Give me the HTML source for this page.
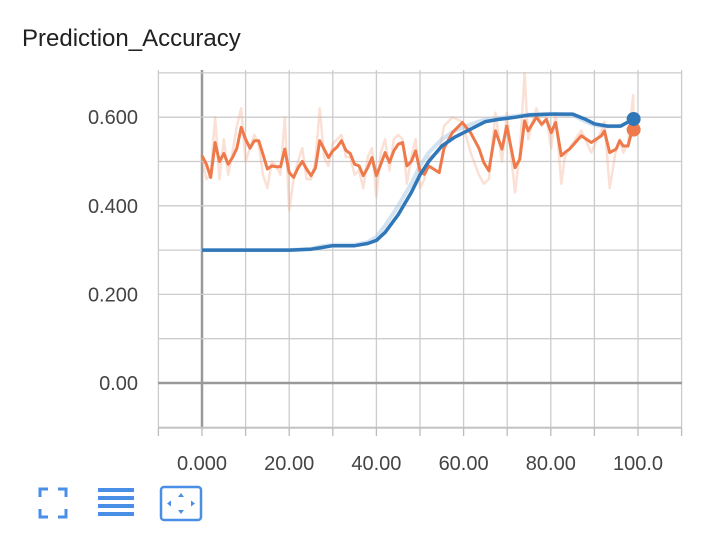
<!DOCTYPE html>
<html><head><meta charset="utf-8"><style>
body{margin:0;background:#fff;width:728px;height:538px;overflow:hidden;font-family:"Liberation Sans",sans-serif}
</style></head><body>
<svg width="728" height="538">
<text x="22" y="46" font-size="24" fill="#212121">Prediction_Accuracy</text>
<g id="grid"></g><g id="series"></g><g id="axes"></g>
<g stroke="#4a8fe7" stroke-width="3" fill="none">
<path d="M40 497v-8h8M58 489h8v8M66 509v8h-8M48 517h-8v-8"/></g>
<g fill="#4a8fe7">
<rect x="98" y="488" width="36" height="4"/><rect x="98" y="496" width="36" height="4"/><rect x="98" y="504" width="36" height="4"/><rect x="98" y="512" width="36" height="4"/></g>
<g>
<rect x="161" y="487" width="40" height="33" rx="3" fill="none" stroke="#4a8fe7" stroke-width="2.5"/>
<path d="M181 493l-3 4h6zM181 514l-3-4h6zM167 503.5l4-3v6zM195 503.5l-4-3v6z" fill="#4a8fe7"/></g>
</svg>
<script>
const xTicks=[0,20,40,60,80,100];
const xTickLabels=["0.000","20.00","40.00","60.00","80.00","100.0"];
const yTicks=[0,0.2,0.4,0.6];
const yTickLabels=["0.00","0.200","0.400","0.600"];
const orangeSteps=[0,1,2,3,4,5,6,7,8,9,10,11,12,13,14,15,16,17,18,19,20,21,22,23,24,25,26,27,28,29,30,31,32,33,34,35,36,37,38,39,40,41,42,43,44,45,46,47,48,49,50,51,52,54.4,55.5,57.4,59.7,61.6,63.5,64.6,65.8,67.3,68.8,69.9,71.8,72.9,74,74.8,76.7,77.9,79,80.1,81.1,82.4,83.2,84.3,87,89.3,91.6,92.3,93.5,95,95.8,96.6,97.7,98.9,99];
const orangeSmoothed=[.513,.494,.464,.543,.50,.518,.494,.509,.53,.577,.55,.53,.547,.547,.516,.483,.49,.488,.488,.528,.475,.464,.485,.50,.483,.468,.485,.547,.528,.509,.524,.533,.547,.525,.518,.494,.49,.468,.486,.509,.468,.494,.52,.498,.524,.539,.543,.49,.50,.524,.479,.471,.49,.475,.53,.565,.588,.565,.53,.498,.479,.569,.528,.58,.486,.505,.592,.569,.6,.584,.595,.565,.588,.513,.52,.528,.558,.543,.558,.569,.52,.528,.547,.535,.535,.58,.572];
const orangeRaw=[.51,.46,.47,.60,.46,.55,.47,.52,.58,.62,.50,.53,.56,.54,.47,.44,.50,.49,.47,.60,.39,.46,.50,.53,.46,.46,.50,.62,.51,.49,.54,.55,.56,.51,.51,.47,.48,.44,.51,.53,.42,.52,.55,.48,.55,.56,.55,.45,.51,.55,.44,.46,.51,.52,.58,.60,.59,.52,.47,.45,.46,.61,.50,.61,.43,.52,.70,.55,.62,.58,.60,.53,.61,.45,.51,.53,.57,.52,.57,.59,.44,.53,.55,.52,.54,.65,.56];
const blueSteps=[0,10,20,25,27,30,35,38,40,42,45,48,50,52,55,58,62,65,68,72,75,80,85,88,90,93,96,99];
const blueSmoothed=[.30,.30,.30,.302,.305,.31,.31,.315,.322,.34,.38,.43,.47,.50,.535,.555,.575,.59,.595,.60,.605,.607,.607,.595,.585,.58,.58,.596];
const blueRaw=[.30,.30,.30,.303,.308,.312,.312,.318,.33,.355,.40,.45,.49,.52,.55,.57,.585,.595,.598,.603,.606,.608,.605,.59,.582,.579,.58,.596];
const NS="http://www.w3.org/2000/svg";
const X=v=>202+v*4.36, Y=v=>383-v*443;
const grid=document.getElementById('grid'),axes=document.getElementById('axes'),ser=document.getElementById('series');
function mk(p,tag,a){const e=document.createElementNS(NS,tag);for(const k in a)e.setAttribute(k,a[k]);p.appendChild(e);return e;}
for(let v=-10;v<=110;v+=10){const l=mk(grid,'line',{x1:X(v),x2:X(v),y1:70,y2:428,stroke:v===0?'#999':'#ccc','stroke-width':v===0?2.5:1.3});


const t=mk(axes,'line',{x1:X(v),x2:X(v),y1:428,y2:436,stroke:'#bbb','stroke-width':1.3});

}
for(let k=-1;k<=7;k++){const v=k/10;const l=mk(grid,'line',{x1:158,x2:682,y1:Y(v),y2:Y(v),stroke:k===0?'#999':'#ccc','stroke-width':k===0?2.5:1.3});

}
mk(axes,'line',{x1:158,x2:682,y1:428,y2:428,stroke:'#bbb','stroke-width':1.3});
xTicks.forEach((v,i)=>{const t=mk(axes,'text',{x:X(v),y:470,'text-anchor':'middle','font-size':20,fill:'#444'});t.textContent=xTickLabels[i];

});
yTicks.forEach((v,i)=>{const t=mk(axes,'text',{x:138,y:Y(v)+7,'text-anchor':'end','font-size':20,fill:'#444'});t.textContent=yTickLabels[i];

});
function line(xs,ys,c,w,op,name){const d=xs.map((x,i)=>(i?'L':'M')+X(x).toFixed(1)+' '+Y(ys[i]).toFixed(1)).join('');
const p=mk(ser,'path',{d:d,fill:'none',stroke:c,'stroke-width':w,'stroke-opacity':op,'stroke-linejoin':'round'});

}
line(orangeSteps,orangeRaw,'#f4a58a',2.5,.35,'orange-raw-line');
line(blueSteps,blueRaw,'#a9c8e3',4,.5,'blue-raw-line');
line(orangeSteps,orangeSmoothed,'#ee7a4b',3,1,'orange-smoothed-line');
line(blueSteps,blueSmoothed,'#2f77b8',3.5,1,'blue-smoothed-line');
const od=mk(ser,'circle',{cx:X(orangeSteps[orangeSteps.length-1]),cy:Y(orangeSmoothed[orangeSmoothed.length-1]),r:7,fill:'#ee7a4b'});


const bd=mk(ser,'circle',{cx:X(blueSteps[blueSteps.length-1]),cy:Y(blueSmoothed[blueSmoothed.length-1]),r:7,fill:'#2f77b8'});


</script>
</body></html>
